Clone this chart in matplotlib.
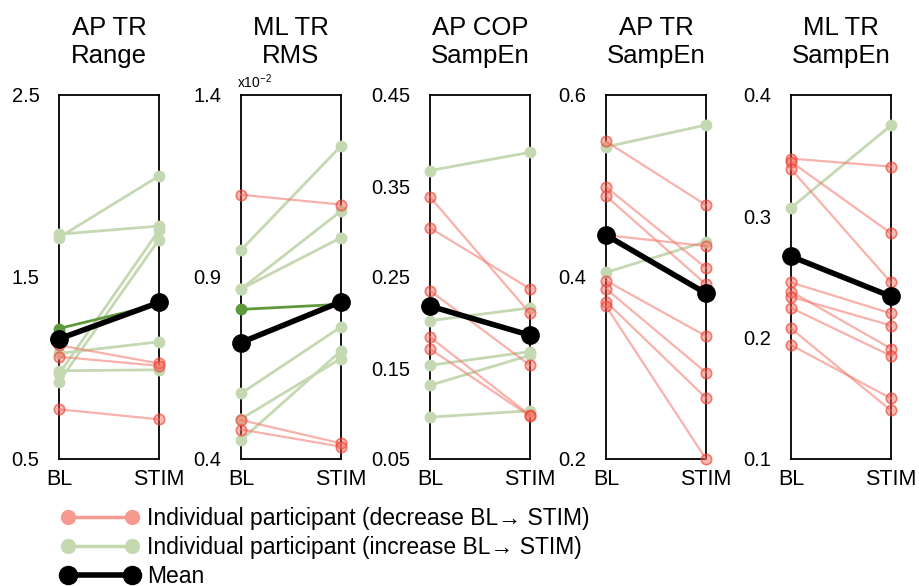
import matplotlib.pyplot as plt
from matplotlib.lines import Line2D

plt.rcParams['font.family'] = ['Liberation Sans', 'DejaVu Sans']
plt.rcParams['mathtext.fontset'] = 'custom'
plt.rcParams['mathtext.rm'] = 'Liberation Sans'

# Panel titles and y axes
titles = ['AP TR\nRange', 'ML TR\nRMS', 'AP COP\nSampEn', 'AP TR\nSampEn', 'ML TR\nSampEn']
ylims = [(0.5, 2.5), (0.4, 1.4), (0.05, 0.45), (0.2, 0.6), (0.1, 0.4)]
yticks = [[0.5, 1.5, 2.5], [0.4, 0.9, 1.4], [0.05, 0.15, 0.25, 0.35, 0.45],
          [0.2, 0.4, 0.6], [0.1, 0.2, 0.3, 0.4]]
ytick_labels = [['0.5', '1.5', '2.5'], ['0.4', '0.9', '1.4'],
                ['0.05', '0.15', '0.25', '0.35', '0.45'],
                ['0.2', '0.4', '0.6'], ['0.1', '0.2', '0.3', '0.4']]

# Individual participants, baseline (BL) and stimulation (STIM)
ap_range_bl = [1.735, 1.717, 1.217, 1.125, 1.08, 1.062, 0.985, 0.967, 0.925, 0.773]
ap_range_stim = [1.78, 2.055, 1.35, 1.025, 1.144, 1.012, 0.99, 1.757, 1.706, 0.718]

ml_rms_bl = [1.126, 0.974, 0.867, 0.867, 0.811, 0.58, 0.51, 0.507, 0.481, 0.452]
ml_rms_stim = [1.099, 1.26, 1.081, 1.008, 0.825, 0.763, 0.676, 0.443, 0.434, 0.697]

ap_cop_bl = [0.367, 0.338, 0.304, 0.235, 0.202, 0.184, 0.171, 0.153, 0.131, 0.096]
ap_cop_stim = [0.387, 0.210, 0.237, 0.153, 0.216, 0.098, 0.097, 0.168, 0.164, 0.103]

ap_sampen_bl = [0.549, 0.543, 0.499, 0.489, 0.446, 0.405, 0.396, 0.387, 0.373, 0.368]
ap_sampen_stim = [0.479, 0.567, 0.410, 0.392, 0.434, 0.439, 0.335, 0.295, 0.267, 0.200]

ml_sampen_bl = [0.3476, 0.345, 0.339, 0.307, 0.2455, 0.238, 0.2337, 0.2246, 0.2076, 0.1939]
ml_sampen_stim = [0.341, 0.286, 0.2455, 0.375, 0.220, 0.191, 0.210, 0.185, 0.140, 0.150]

bl_data = [ap_range_bl, ml_rms_bl, ap_cop_bl, ap_sampen_bl, ml_sampen_bl]
stim_data = [ap_range_stim, ml_rms_stim, ap_cop_stim, ap_sampen_stim, ml_sampen_stim]

# participant drawn in dark green (index), or None
dark_idx = [2, 4, None, None, None]

# Group means
mean_bl = [1.16, 0.72, 0.218, 0.446, 0.267]
mean_stim = [1.36, 0.832, 0.186, 0.382, 0.234]

red_line = (0.96, 0.45, 0.40, 0.55)
red_face = (1.0, 0.40, 0.35, 0.45)
red_edge = (0.92, 0.25, 0.20, 0.65)
green = '#c4d8b1'
dark_green = '#5e9a3c'

fig = plt.figure(figsize=(9.19, 5.86), dpi=100)
lefts = [59, 241, 430, 606, 791]

for i in range(5):
    ax = fig.add_axes([lefts[i] / 919, 127 / 586, 100 / 919, 364 / 586])
    bl = bl_data[i]
    st = stim_data[i]
    # increases first (underneath), then decreases
    for j in range(len(bl)):
        if st[j] >= bl[j] and j != dark_idx[i]:
            ax.plot([0, 1], [bl[j], st[j]], '-o', color=green, lw=2, ms=7.5,
                    clip_on=False, zorder=3)
    for j in range(len(bl)):
        if j == dark_idx[i]:
            ax.plot([0, 1], [bl[j], st[j]], '-o', color=dark_green, lw=2, ms=7.5,
                    clip_on=False, zorder=3.5)
    for j in range(len(bl)):
        if st[j] < bl[j]:
            ax.plot([0, 1], [bl[j], st[j]], '-', color=red_line, lw=1.6,
                    clip_on=False, zorder=4)
            ax.plot([0, 1], [bl[j], st[j]], 'o', mfc=red_face, mec=red_edge, mew=1.2,
                    ms=7.5, clip_on=False, zorder=4)
    ax.plot([0, 1], [mean_bl[i], mean_stim[i]], '-o', color='black', lw=4, ms=12.5,
            clip_on=False, zorder=6)

    ax.set_xlim(0, 1)
    ax.set_ylim(ylims[i])
    ax.set_xticks([0, 1])
    ax.set_xticklabels(['BL', 'STIM'], fontsize=15.5)
    ax.set_yticks(yticks[i])
    ax.set_yticklabels(ytick_labels[i], fontsize=14.5)
    ax.tick_params(axis='y', length=0, pad=14)
    ax.tick_params(axis='x', length=0, pad=7)
    for s in ax.spines.values():
        s.set_linewidth(1.3)
    ax.set_title(titles[i], fontsize=18.5, pad=23)
    if i == 1:
        ax.text(-0.04, 1.012, r'x10$^{-2}$', transform=ax.transAxes, fontsize=10,
                ha='left', va='bottom')

handles = [
    Line2D([], [], color='#f8998f', marker='o', lw=2.5, ms=10),
    Line2D([], [], color=green, marker='o', lw=2.5, ms=10),
    Line2D([], [], color='black', marker='o', lw=4, ms=13),
]
labels = ['Individual participant (decrease BL\u2192 STIM)',
          'Individual participant (increase BL\u2192 STIM)',
          'Mean']
fig.legend(handles, labels, loc='upper left', bbox_to_anchor=(0.066, 0.135),
           frameon=False, numpoints=2, fontsize=16.5, handlelength=3.4,
           handletextpad=0.38, labelspacing=0.26, borderpad=0, borderaxespad=0)

plt.savefig('out.png', dpi=100)
